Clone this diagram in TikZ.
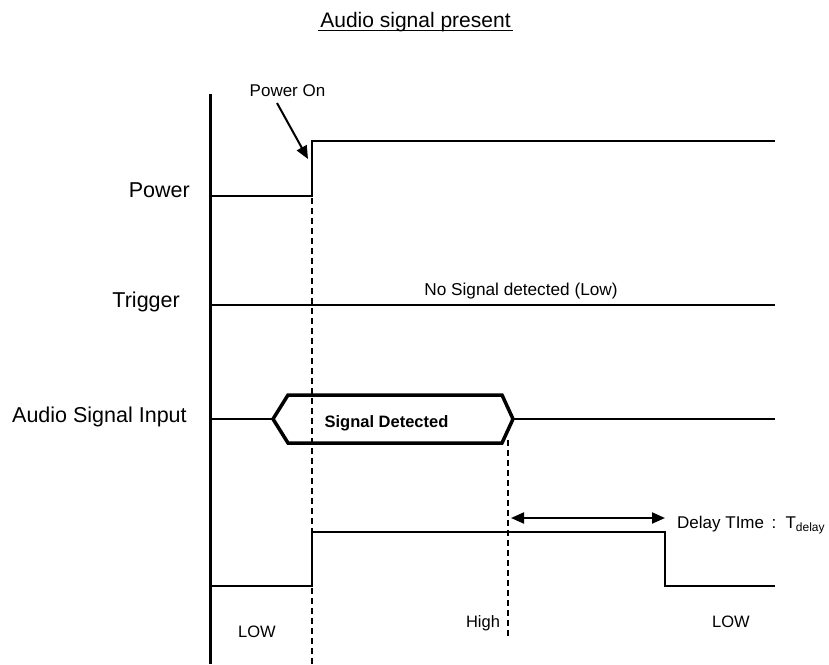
\documentclass[tikz,border=0pt]{standalone}
\usepackage{fontspec}
\setmainfont{Liberation Sans}
\usetikzlibrary{arrows.meta}
\begin{document}
\begin{tikzpicture}[x=1pt,y=-1pt,
  sig/.style={line width=2pt,line join=miter},
  axisline/.style={line width=3pt},
  hexline/.style={line width=3.5pt,line join=miter},
  guide/.style={line width=2pt,dash pattern=on 6pt off 4pt},
  arr/.style={line width=2pt,-{Triangle[length=13pt,width=11pt]}},
  darr/.style={line width=2pt,{Triangle[length=13pt,width=11pt]}-{Triangle[length=13pt,width=11pt]}},
  big/.style={inner sep=0pt,font=\fontsize{21.5}{25}\selectfont},
  small/.style={inner sep=0pt,font=\fontsize{16.5}{20}\selectfont},
]
\useasboundingbox (0,0) rectangle (829,664);
% title
\node[inner sep=0pt,font=\fontsize{21}{25}\selectfont,anchor=base] (title) at (415.5,27) {Audio signal present};
\draw[line width=1.6pt] (318,30.5) -- (513,30.5);
% axis
\coordinate (axtop) at (210,94);
\coordinate (axbot) at (210,664);
\draw[axisline] (axtop) -- (axbot);
% labels
\node[big,anchor=base east] (lpower) at (190,197) {Power};
\node[big,anchor=base east] (ltrig) at (180,307) {Trigger};
\node[big,anchor=base west] (laudio) at (12,422) {Audio Signal Input};
% power
\coordinate (p0) at (210,196);
\coordinate (p1) at (312,196);
\coordinate (p2) at (312,141);
\coordinate (p3) at (775,141);
\draw[sig] (p0) -- (p1) -- (p2) -- (p3);
\node[inner sep=0pt,font=\fontsize{17}{20}\selectfont,anchor=base] (pon) at (287.5,96) {Power On};
\coordinate (ponA) at (277,103);
\coordinate (ponB) at (308,159);
\draw[arr] (ponA) -- (ponB);
% trigger
\coordinate (t0) at (210,305);
\coordinate (t1) at (775,305);
\draw[sig] (t0) -- (t1);
\node[inner sep=0pt,font=\fontsize{17.2}{20}\selectfont,anchor=base] (nosig) at (521,295) {No Signal detected (Low)};
% audio
\coordinate (a0) at (210,419);
\coordinate (hl) at (273,419);
\coordinate (htl) at (288,395);
\coordinate (htr) at (502,395);
\coordinate (hr) at (513,419);
\coordinate (hbr) at (502,443);
\coordinate (hbl) at (288,443);
\coordinate (a1) at (775,419);
\draw[sig] (a0) -- (hl);
\draw[sig] (hr) -- (a1);
\draw[hexline] (hl) -- (htl) -- (htr) -- (hr) -- (hbr) -- (hbl) -- cycle;
\node[inner sep=0pt,font=\bfseries\fontsize{16.5}{20}\selectfont,anchor=base] (sd) at (386.5,427) {Signal Detected};
% output
\coordinate (o0) at (210,586);
\coordinate (o1) at (312,586);
\coordinate (o2) at (312,532);
\coordinate (o3) at (665,532);
\coordinate (o4) at (665,586);
\coordinate (o5) at (775,586);
\draw[sig] (o0) -- (o1) -- (o2) -- (o3) -- (o4) -- (o5);
% guides
\coordinate (g1a) at (312,198);
\coordinate (g1b) at (312,664);
\draw[guide] (g1a) -- (g1b);
\coordinate (g2a) at (508,440);
\coordinate (g2b) at (508,637);
\draw[guide] (g2a) -- (g2b);
% delay arrow
\coordinate (da) at (511,518);
\coordinate (db) at (665,518);
\draw[darr] (da) -- (db);
\node[inner sep=0pt,font=\fontsize{17}{20}\selectfont,anchor=base west] (delay) at (677,528) {Delay TIme\, :\, T\raisebox{-0.35ex}{\fontsize{12}{14}\selectfont delay}};
% state labels
\node[small,anchor=base] (low1) at (257,637) {LOW};
\node[small,anchor=base] (high) at (483,627) {High};
\node[small,anchor=base] (low2) at (731,627) {LOW};
\end{tikzpicture}
\end{document}
